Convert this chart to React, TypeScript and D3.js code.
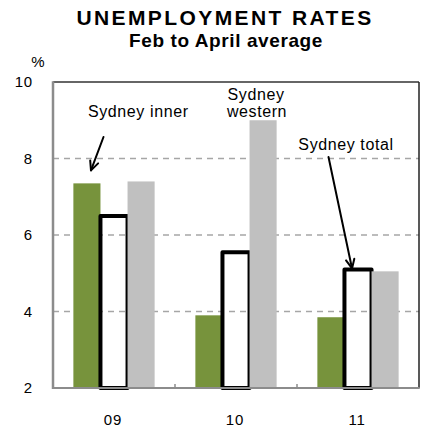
import React from "react";
import * as d3 from "d3";

const categories = ["09", "10", "11"];
const series = ["Sydney inner", "Sydney total", "Sydney western"];
const innerValues = [7.35, 3.9, 3.85];
const totalValues = [6.5, 5.55, 5.1];
const westernValues = [7.4, 9.0, 5.05];
const yTicks = [2, 4, 6, 8, 10];

const W = 421;
const H = 429;
const FONT = "'Liberation Sans', Arial, sans-serif";

export default function App() {
  const left = 53;
  const right = 419;
  const top = 82;
  const bottom = 388;

  const x = d3.scaleBand<string>().domain(categories).range([left, right]).padding(0);
  const bw = x.bandwidth();
  const x1 = d3.scaleBand<string>().domain(series).range([bw * 0.167, bw * 0.833]).padding(0);
  const sw = x1.bandwidth();
  const y = d3.scaleLinear().domain([2, 10]).range([bottom, top]);

  const gridColor = "#A6A6A6";
  const axisColor = "#8C8C8C";
  const green = "#77933C";
  const gray = "#C0C0C0";

  // annotation anchors derived from scales
  const innerTipX = (x("09") as number) + (x1("Sydney inner") as number) + sw * 0.65;
  const innerTipY = y(innerValues[0]) - 13;
  const totalTipX = (x("11") as number) + (x1("Sydney total") as number) + sw * 0.28;
  const totalTipY = y(totalValues[2]) - 1;

  const arrow = (x0: number, y0: number, x2: number, y2: number) => {
    const ang = Math.atan2(y2 - y0, x2 - x0);
    const L = 10;
    const a = (25 * Math.PI) / 180;
    const p1 = [x2 - L * Math.cos(ang - a), y2 - L * Math.sin(ang - a)];
    const p2 = [x2 - L * Math.cos(ang + a), y2 - L * Math.sin(ang + a)];
    return (
      <g stroke="#000" strokeWidth={2} fill="none" strokeLinecap="round" strokeLinejoin="round">
        <line x1={x0} y1={y0} x2={x2} y2={y2} />
        <path d={`M${p1[0]},${p1[1]} L${x2},${y2} L${p2[0]},${p2[1]}`} />
      </g>
    );
  };

  return (
    <svg
      width={W}
      height={H}
      style={{ position: "absolute", left: 0, top: 0, background: "#fff" }}
      fontFamily={FONT}
    >
      <rect x={0} y={0} width={W} height={H} fill="#fff" />
      {/* Titles */}
      <text x={225} y={25} textAnchor="middle" fontWeight="bold" fontSize={21} letterSpacing={2.4}>
        UNEMPLOYMENT RATES
      </text>
      <text x={226} y={47} textAnchor="middle" fontWeight="bold" fontSize={19} letterSpacing={0.6}>
        Feb to April average
      </text>
      <text x={38} y={67} textAnchor="middle" fontSize={15}>
        %
      </text>

      {/* gridlines */}
      {yTicks
        .filter((t) => t !== 2 && t !== 10)
        .map((t) => (
          <line
            key={t}
            x1={left}
            x2={right}
            y1={y(t)}
            y2={y(t)}
            stroke={gridColor}
            strokeWidth={1.5}
            strokeDasharray="6,5"
          />
        ))}

      {/* y tick labels */}
      {yTicks.map((t) => (
        <text key={t} x={33} y={y(t)} dy="0.36em" textAnchor="end" fontSize={15} letterSpacing={0.8}>
          {t}
        </text>
      ))}

      {/* bars */}
      {categories.map((c, i) => {
        const gx = x(c) as number;
        return (
          <g key={c}>
            <rect
              x={gx + (x1("Sydney inner") as number)}
              y={y(innerValues[i])}
              width={sw}
              height={bottom - y(innerValues[i])}
              fill={green}
            />
            <rect
              x={gx + (x1("Sydney total") as number)}
              y={y(totalValues[i])}
              width={sw}
              height={bottom - y(totalValues[i])}
              fill="none"
              stroke="#000"
              strokeWidth={4}
              strokeLinejoin="round"
            />
            <rect
              x={gx + (x1("Sydney western") as number)}
              y={y(westernValues[i])}
              width={sw}
              height={bottom - y(westernValues[i])}
              fill={gray}
            />
          </g>
        );
      })}

      {/* frame */}
      <line x1={left} x2={right} y1={top} y2={top} stroke="#333" strokeWidth={1.5} />
      <line x1={right} x2={right} y1={top} y2={bottom} stroke="#222" strokeWidth={1.5} />
      <line x1={left} x2={left} y1={top - 0.75} y2={bottom + 1} stroke={axisColor} strokeWidth={2.5} />
      <line x1={left} x2={right + 0.75} y1={bottom} y2={bottom} stroke={axisColor} strokeWidth={2} />
      {categories.slice(1).map((c) => (
        <line
          key={c}
          x1={x(c) as number}
          x2={x(c) as number}
          y1={bottom}
          y2={bottom - 4}
          stroke={axisColor}
          strokeWidth={1.5}
        />
      ))}

      {/* x labels */}
      {categories.map((c) => (
        <text
          key={c}
          x={(x(c) as number) + bw / 2 - 1}
          y={425}
          textAnchor="middle"
          fontSize={15}
          letterSpacing={0.8}
        >
          {c}
        </text>
      ))}

      {/* annotations */}
      <text x={88} y={117} fontSize={16} letterSpacing={0.6}>
        Sydney inner
      </text>
      {arrow(103.5, 137, innerTipX, innerTipY)}

      <text x={256} y={100} textAnchor="middle" fontSize={16} letterSpacing={0.6}>
        Sydney
      </text>
      <text x={257} y={117} textAnchor="middle" fontSize={16} letterSpacing={0.6}>
        western
      </text>

      <text x={346} y={150} textAnchor="middle" fontSize={16} letterSpacing={0.6}>
        Sydney total
      </text>
      {arrow(328.5, 157, totalTipX, totalTipY)}
    </svg>
  );
}
